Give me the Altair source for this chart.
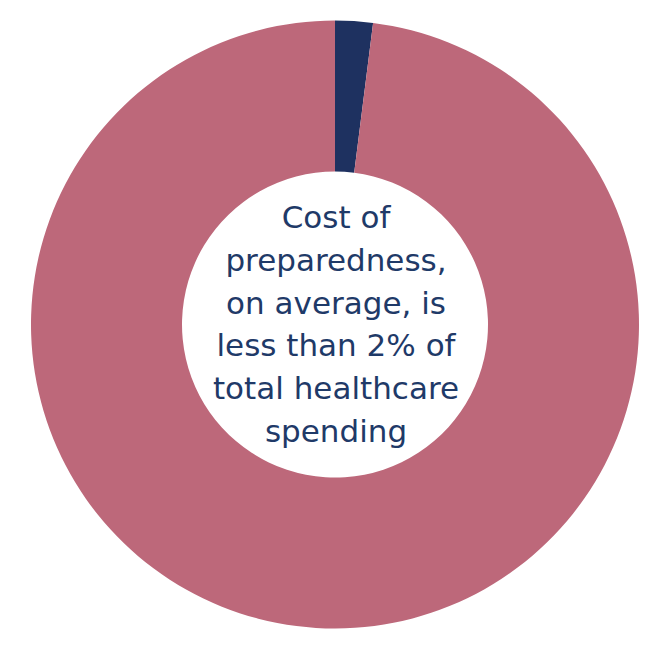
import altair as alt
import pandas as pd

categories = ["Cost of preparedness", "Other healthcare spending"]
shares = [2.0, 98.0]
colors = ["#1E3160", "#BD687A"]
caption_lines = ["Cost of", "preparedness,", "on average, is", "less than 2% of",
                 "total healthcare", "spending"]

df = pd.DataFrame({"category": categories, "share": shares, "order": [0, 1]})
tdf = pd.DataFrame({"label": ["\n".join(caption_lines)]})

cx, cy = 327, 316.5

donut = alt.Chart(df).mark_arc(outerRadius=304, innerRadius=153, stroke=None).encode(
    theta=alt.Theta("share:Q", stack=True),
    order=alt.Order("order:Q"),
    color=alt.Color("category:N", scale=alt.Scale(domain=categories, range=colors), legend=None),
    x=alt.value(cx),
    y=alt.value(cy),
)

text = alt.Chart(tdf).mark_text(
    lineBreak="\n", font="DejaVu Sans", fontSize=31, color="#1F3A68",
    align="center", baseline="alphabetic", lineHeight=42.8,
).encode(text="label:N", x=alt.value(cx + 1), y=alt.value(220))

chart = alt.layer(donut, text).properties(width=652, height=639, padding=0).configure_view(stroke=None)
chart.save("out.html", embed_options={"renderer": "svg", "actions": False})
